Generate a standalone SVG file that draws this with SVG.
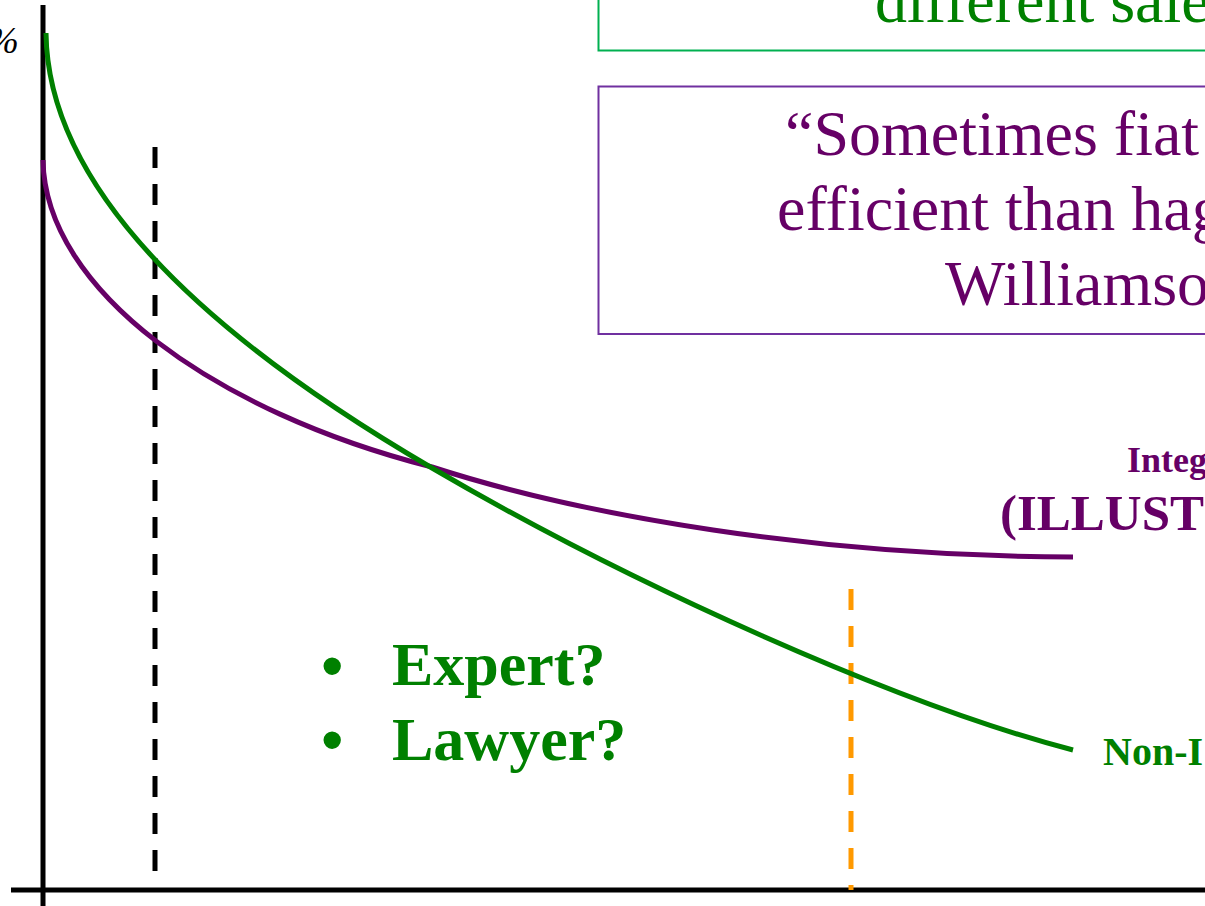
<svg xmlns="http://www.w3.org/2000/svg" width="1205" height="906" viewBox="0 0 1205 906">
  <style>
    .serif { font-family: "Liberation Serif", "Times New Roman", serif; }
    .quote { font-size: 64px; fill: #660066; }
    .note { font-size: 64px; fill: #008000; }
    .bul { font-size: 62px; font-weight: bold; fill: #008000; }
    .dot { font-family: "Liberation Sans", Arial, sans-serif; font-size: 64px; fill: #008000; }
    .axis { stroke: #000; stroke-width: 5; fill: none; }
    .curve { stroke-width: 5; fill: none; stroke-linecap: butt; }
    .dash { stroke-width: 5; stroke-dasharray: 21 16; fill: none; }
  </style>
  <rect width="1205" height="906" fill="#ffffff"/>

  <!-- callout boxes -->
  <g id="note-box">
    <rect x="598.5" y="-20" width="700" height="70.5" fill="none" stroke="#00b050" stroke-width="2"/>
    <text class="serif note" x="875" y="22">different sale</text>
  </g>
  <g id="quote-box">
    <rect x="598.5" y="86.5" width="700" height="247.5" fill="none" stroke="#7030a0" stroke-width="2"/>
    <text class="serif quote" x="785" y="155">“Sometimes fiat</text>
    <text class="serif quote" x="777" y="230">efficient than hag</text>
    <text class="serif quote" x="945" y="305">Williamso</text>
  </g>

  <!-- axes -->
  <g id="axes">
    <line class="axis" x1="43" y1="5" x2="43" y2="906"/>
    <line class="axis" x1="11" y1="890" x2="1205" y2="890"/>
    <text class="serif" x="19" y="53" text-anchor="end" font-size="38" font-style="italic" fill="#000">%</text>
  </g>

  <!-- reference lines -->
  <g id="connectors">
    <line class="dash" x1="155" y1="147" x2="155" y2="876" stroke="#000"/>
    <line class="dash" x1="851" y1="589" x2="851" y2="890" stroke="#ff9900" stroke-width="4"/>
  </g>

  <!-- integrated curve -->
  <g id="integrated">
    <path class="curve" stroke="#660066" d="M43,160 C45,290 215,412 432,467 C580,515 820,557 1073,557"/>
    <text class="serif" x="1127" y="472" font-size="36" font-weight="bold" fill="#660066">Integ</text>
    <text class="serif" x="1000" y="530" font-size="51" font-weight="bold" fill="#660066">(ILLUST</text>
  </g>

  <!-- non-integrated curve -->
  <g id="non-integrated">
    <path class="curve" stroke="#008000" d="M46,33 C48,200 230,350 432,468 C632,585 900,705 1073,750"/>
    <text class="serif" x="1103" y="765" font-size="40" font-weight="bold" fill="#008000">Non-I</text>
  </g>

  <!-- question list -->
  <g id="questions">
    <text class="dot" x="321" y="688">•</text>
    <text class="dot" x="321" y="762">•</text>
    <text class="serif bul" x="392" y="685">Expert?</text>
    <text class="serif bul" x="392" y="760">Lawyer?</text>
  </g>
</svg>
